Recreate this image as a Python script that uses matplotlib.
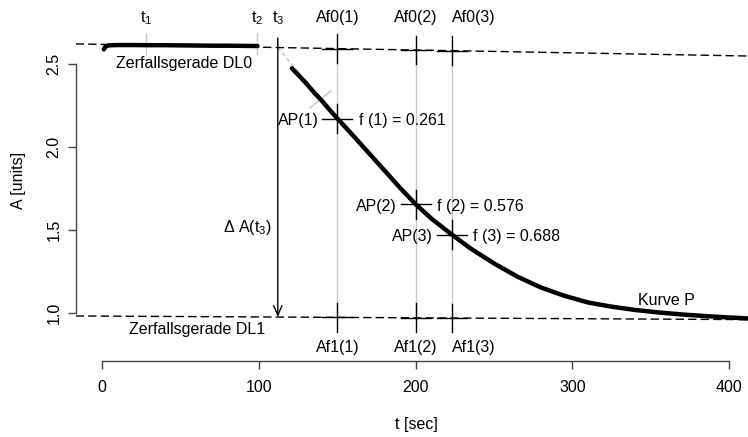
import matplotlib
matplotlib.use("Agg")
import matplotlib.pyplot as plt
import numpy as np

plt.rcParams['font.family'] = ['Liberation Sans', 'DejaVu Sans']
plt.rcParams['mathtext.fontset'] = 'custom'
plt.rcParams['mathtext.rm'] = 'Liberation Sans'
plt.rcParams['mathtext.it'] = 'Liberation Sans'

# --- measured absorbance before the reaction start (baseline, DL0 region)
t_base = [1, 2, 4, 10, 20, 30, 40, 50, 60, 70, 80, 90, 99]
A_base = [2.588, 2.605, 2.612, 2.614, 2.614, 2.613, 2.613, 2.612, 2.611,
          2.610, 2.610, 2.609, 2.608]

# --- reaction curve P
t_curve = [121, 125, 130, 135, 140, 145, 150, 160, 170, 180, 190, 200, 210,
           223, 235, 250, 265, 280, 295, 310, 325, 340, 355, 370, 385, 400, 412]
A_curve = [2.474, 2.435, 2.385, 2.330, 2.280, 2.225, 2.172, 2.070, 1.965,
           1.860, 1.755, 1.656, 1.570, 1.474, 1.390, 1.300, 1.220, 1.155,
           1.105, 1.065, 1.040, 1.020, 1.005, 0.993, 0.983, 0.975, 0.969]

# --- decay lines (Zerfallsgeraden), given by their end points
dl_t = [-17, 412]
dl0_A = [2.621, 2.548]
dl1_A = [0.984, 0.962]

# --- time marks
t_marks = [28, 98.5, 112]
t_mark_labels = [r'$\mathregular{t_1}$', r'$\mathregular{t_2}$', r'$\mathregular{t_3}$']

# --- evaluation points and conversion fractions
t_f = [150, 200, 223]
f_vals = [0.261, 0.576, 0.688]

x_ticks = [0, 100, 200, 300, 400]
y_ticks = [1.0, 1.5, 2.0, 2.5]
y_tick_labels = ['1.0', '1.5', '2.0', '2.5']

FS = 11.5
fig = plt.figure(figsize=(7.48, 4.37), dpi=100)
ax = fig.add_axes([75.7 / 748, (437 - 361) / 437, (748 - 75.7) / 748, 361 / 437])
ax.set_xlim(-16.97, 412.06)
ax.set_ylim(0.713, 2.885)

for s in ('top', 'right'):
    ax.spines[s].set_visible(False)
ax.spines['left'].set_bounds(1.0, 2.5)
ax.spines['bottom'].set_bounds(0, 400)
for s in ('left', 'bottom'):
    ax.spines[s].set_color('#444444')
    ax.spines[s].set_linewidth(1)

ax.set_xticks(x_ticks)
ax.set_xticklabels([str(v) for v in x_ticks])
ax.set_yticks(y_ticks)
ax.set_yticklabels(y_tick_labels, rotation=90, va='center')
ax.tick_params(direction='out', length=5.8, width=1, colors='#444444',
               labelcolor='black', labelsize=FS)
ax.tick_params(axis='x', pad=8.0)
ax.tick_params(axis='y', pad=4.5)

def dl0(t):
    return np.interp(t, dl_t, dl0_A)

def dl1(t):
    return np.interp(t, dl_t, dl1_A)

# decay lines
ax.plot(dl_t, dl0_A, color='black', lw=1, dashes=(6, 3), zorder=2)
ax.plot(dl_t, dl1_A, color='black', lw=1, dashes=(6, 3), zorder=2)

# evaluation points
Af0 = dl0(t_f)
Af1 = dl1(t_f)
AP = Af0 - np.array(f_vals) * (Af0 - Af1)

ax.vlines(t_f, Af1, Af0, color='#c8c8c8', lw=1, zorder=1)

# start marks on the baseline
ax.vlines(t_marks[:2], 2.554, 2.687, color='#c8c8c8', lw=1, zorder=1)

# extrapolation of the initial slope back to t3 and its normal
ax.plot([t_marks[2], 143], [dl0(t_marks[2]), 2.25], color='#bdbdbd', lw=1,
        dashes=(3, 2), zorder=1)
ax.plot([132.5, 145.9], [2.235, 2.338], color='#c4c4c4', lw=1, zorder=1)

# data
ax.plot(t_base, A_base, color='black', lw=3.2, solid_capstyle='round', zorder=3)
ax.plot(t_curve, A_curve, color='black', lw=3.2, solid_capstyle='round', zorder=3)

# crosses
hw, hh = 9.6, 0.087
for t, a0, a1, ap in zip(t_f, Af0, Af1, AP):
    for y in (a0, a1, ap):
        ax.plot([t - hw, t + hw], [y, y], color='black', lw=1, zorder=4)
        ax.plot([t, t], [y - hh, y + hh], color='black', lw=1, zorder=4)

# Delta A(t3) arrow
t3 = t_marks[2]
ax.annotate('', xy=(t3, dl1(t3)), xytext=(t3, 2.656),
            arrowprops=dict(arrowstyle='->,head_length=0.7,head_width=0.3',
                            color='black', lw=1, shrinkA=0, shrinkB=0,
                            mutation_scale=10), zorder=4)

# labels
for t, lab in zip(t_marks, t_mark_labels):
    ax.text(t, 2.777, lab, ha='center', va='center', fontsize=FS)

for i, t in enumerate(t_f):
    ha = 'left' if i == 2 else 'center'
    ax.text(t, 2.777, f'Af0({i + 1})', ha=ha, va='center', fontsize=FS)
    ax.text(t, 0.797, f'Af1({i + 1})', ha=ha, va='center', fontsize=FS)
    ax.text(t - 12.1, AP[i] - 0.012, f'AP({i + 1})', ha='right', va='center',
            fontsize=FS)
    ax.text(t + 13.8, AP[i] - 0.012, f'f ({i + 1}) = {f_vals[i]:.3f}',
            ha='left', va='center', fontsize=FS)

ax.text(52.3, 2.503, 'Zerfallsgerade DL0', ha='center', va='center', fontsize=FS)
ax.text(60.4, 0.900, 'Zerfallsgerade DL1', ha='center', va='center', fontsize=FS)
ax.text(108.3, 1.517, r'Δ A($\mathregular{t_3}$)', ha='right', va='center',
        fontsize=FS)
ax.text(360.3, 1.076, 'Kurve P', ha='center', va='center', fontsize=FS)

fig.text(18 / 748, 1 - 180 / 437, 'A [units]', rotation=90, ha='center',
         va='center', fontsize=FS)
fig.text(416 / 748, 1 - 425 / 437, 't [sec]', ha='center', va='center',
         fontsize=FS)

fig.savefig('out.png', dpi=100)
